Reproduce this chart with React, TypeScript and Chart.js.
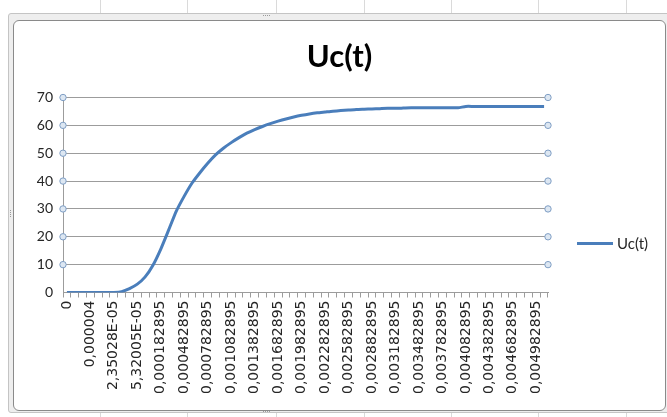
import { useEffect, useRef } from 'react';
import { Chart, registerables } from 'chart.js';

Chart.register(...registerables);

// Chart title and series name
const CHART_TITLE = 'Uc(t)';
const SERIES_NAME = 'Uc(t)';

// Simulation time stamps (s), formatted the way the worksheet shows them
const timeLabels: string[] = [
  '0', '0,000001', '0,000002', '0,000004', '0,000008', '1,55028E-05',
  '2,35028E-05', '3,35028E-05', '4,32005E-05', '5,32005E-05', '8,2895E-05', '0,000132895',
  '0,000182895', '0,000282895', '0,000382895', '0,000482895', '0,000582895', '0,000682895',
  '0,000782895', '0,000882895', '0,000982895', '0,001082895', '0,001182895', '0,001282895',
  '0,001382895', '0,001482895', '0,001582895', '0,001682895', '0,001782895', '0,001882895',
  '0,001982895', '0,002082895', '0,002182895', '0,002282895', '0,002382895', '0,002482895',
  '0,002582895', '0,002682895', '0,002782895', '0,002882895', '0,002982895', '0,003082895',
  '0,003182895', '0,003282895', '0,003382895', '0,003482895', '0,003582895', '0,003682895',
  '0,003782895', '0,003882895', '0,003982895', '0,004082895', '0,004182895', '0,004282895',
  '0,004382895', '0,004482895', '0,004582895', '0,004682895', '0,004782895', '0,004882895',
  '0,004982895', '0,005082895',
];

// Capacitor voltage Uc (V) at each time stamp
const ucValues: number[] = [
  0, 0, 0, 0, 0, 0,
  0, 0.3, 1.4, 3.0, 5.6, 9.8,
  15.6, 22.4, 29.3, 34.6, 39.3, 43.0,
  46.4, 49.4, 51.8, 53.8, 55.6, 57.2,
  58.5, 59.6, 60.6, 61.5, 62.3, 63.0,
  63.6, 64.1, 64.5, 64.8, 65.1, 65.3,
  65.5, 65.7, 65.8, 65.9, 66.0, 66.1,
  66.1, 66.2, 66.3, 66.3, 66.3, 66.3,
  66.3, 66.3, 66.3, 66.8, 66.8, 66.8,
  66.8, 66.8, 66.8, 66.8, 66.8, 66.8,
  66.8, 66.8,
];

// Value axis
const Y_MIN = 0;
const Y_MAX = 70;
const Y_STEP = 10;
// Every third time stamp gets a label
const LABEL_EVERY = 3;

const LINE_BLUE = '#4a7ebb';
const GRID_GRAY = '#9c9c9c';
const TEXT_DARK = '#262626';

// Small round handles at both ends of each horizontal gridline
const gridHandles = {
  id: 'gridHandles',
  afterDraw(chart: any) {
    const { ctx, chartArea, scales } = chart;
    const y = scales.y;
    ctx.save();
    for (let v = Y_MIN + Y_STEP; v <= Y_MAX; v += Y_STEP) {
      const py = y.getPixelForValue(v);
      for (const px of [chartArea.left, chartArea.right]) {
        ctx.beginPath();
        ctx.arc(px, py, 3.2, 0, Math.PI * 2);
        ctx.fillStyle = '#dde7f2';
        ctx.fill();
        ctx.lineWidth = 1;
        ctx.strokeStyle = '#7f9ec4';
        ctx.stroke();
      }
    }
    ctx.restore();
  },
};

const sheetColumns = [100, 187, 276, 364, 451, 538, 626];

function Dots({ left, top, vertical }: { left: number; top: number; vertical?: boolean }) {
  const items = [0, 1, 2, 3];
  return (
    <>
      {items.map((i) => (
        <div
          key={i}
          style={{
            position: 'absolute',
            left: vertical ? left : left + i * 2,
            top: vertical ? top + i * 2 : top,
            width: 1,
            height: 1,
            background: '#9a9a9a',
          }}
        />
      ))}
    </>
  );
}

export default function App() {
  const canvasRef = useRef<HTMLCanvasElement | null>(null);

  useEffect(() => {
    if (!canvasRef.current) return;
    const chart = new Chart(canvasRef.current, {
      type: 'line',
      data: {
        labels: timeLabels,
        datasets: [
          {
            label: SERIES_NAME,
            data: ucValues,
            borderColor: LINE_BLUE,
            backgroundColor: LINE_BLUE,
            borderWidth: 3,
            pointRadius: 0,
            pointHoverRadius: 0,
            tension: 0.2,
            fill: false,
            yAxisID: 'y',
          },
        ],
      },
      options: {
        responsive: false,
        animation: false,
        events: [],
        layout: { padding: 0 },
        plugins: {
          legend: { display: false },
          tooltip: { enabled: false },
          title: {
            display: true,
            text: CHART_TITLE,
            color: '#000000',
            font: { family: 'Lato', size: 31, weight: 'bold', lineHeight: 1.2 },
            padding: { top: 17.4, bottom: 21.9 },
          },
        },
        scales: {
          x: {
            type: 'category',
            offset: true,
            afterFit(scale: any) {
              scale.height = 117.5;
            },
            grid: {
              display: true,
              offset: true,
              drawOnChartArea: false,
              drawTicks: true,
              tickLength: 5,
              color: GRID_GRAY,
            },
            border: { display: true, color: GRID_GRAY },
            ticks: {
              autoSkip: false,
              maxRotation: 90,
              minRotation: 90,
              padding: 3,
              color: TEXT_DARK,
              font: { family: 'DejaVu Sans', size: 14 },
              callback: (_v: any, i: number) => (i % LABEL_EVERY === 0 ? timeLabels[i] : ''),
            },
          },
          y: {
            min: Y_MIN,
            max: Y_MAX,
            afterFit(scale: any) {
              scale.width = 49;
            },
            grid: { color: GRID_GRAY, drawTicks: false },
            border: { display: true, color: GRID_GRAY },
            ticks: {
              stepSize: Y_STEP,
              padding: 10,
              color: TEXT_DARK,
              font: { family: 'Lato', size: 14 },
            },
          },
          // empty strip on the right that leaves room for the legend
          legendSpace: {
            type: 'linear',
            position: 'right',
            display: true,
            afterFit(scale: any) {
              scale.width = 117;
            },
            grid: { display: false },
            border: { display: false },
            ticks: { display: false },
          },
        },
      },
      plugins: [gridHandles],
    });
    return () => chart.destroy();
  }, []);

  return (
    <div
      style={{
        position: 'fixed',
        left: 0,
        top: 0,
        width: 667,
        height: 417,
        background: '#ffffff',
        overflow: 'hidden',
      }}
    >
      {sheetColumns.map((x) => (
        <div
          key={x}
          style={{ position: 'absolute', left: x, top: 0, width: 1, height: 417, background: '#dadada' }}
        />
      ))}
      {/* selection frame around the chart object */}
      <div
        style={{
          position: 'absolute',
          left: 8,
          top: 13,
          width: 670,
          height: 400,
          background: '#eeeeee',
          border: '1px solid #c4c4c4',
          borderRadius: 3,
          boxSizing: 'border-box',
        }}
      />
      <Dots left={263} top={15} />
      <Dots left={263} top={411} />
      <Dots left={10} top={210} vertical />
      {/* chart area */}
      <div
        style={{
          position: 'absolute',
          left: 13,
          top: 20,
          width: 653,
          height: 391,
          background: '#ffffff',
          border: '1px solid #8a8a8a',
          borderRadius: 6,
          boxSizing: 'border-box',
          overflow: 'hidden',
        }}
      >
        <canvas ref={canvasRef} width={651} height={389} style={{ display: 'block' }} />
      </div>
      {/* legend */}
      <div
        style={{
          position: 'absolute',
          left: 577,
          top: 241.5,
          width: 36,
          height: 3,
          background: LINE_BLUE,
        }}
      />
      <div
        style={{
          position: 'absolute',
          left: 617,
          top: 233,
          fontFamily: 'Lato',
          fontSize: 15,
          lineHeight: '20px',
          color: TEXT_DARK,
          whiteSpace: 'nowrap',
        }}
      >
        {SERIES_NAME}
      </div>
    </div>
  );
}
